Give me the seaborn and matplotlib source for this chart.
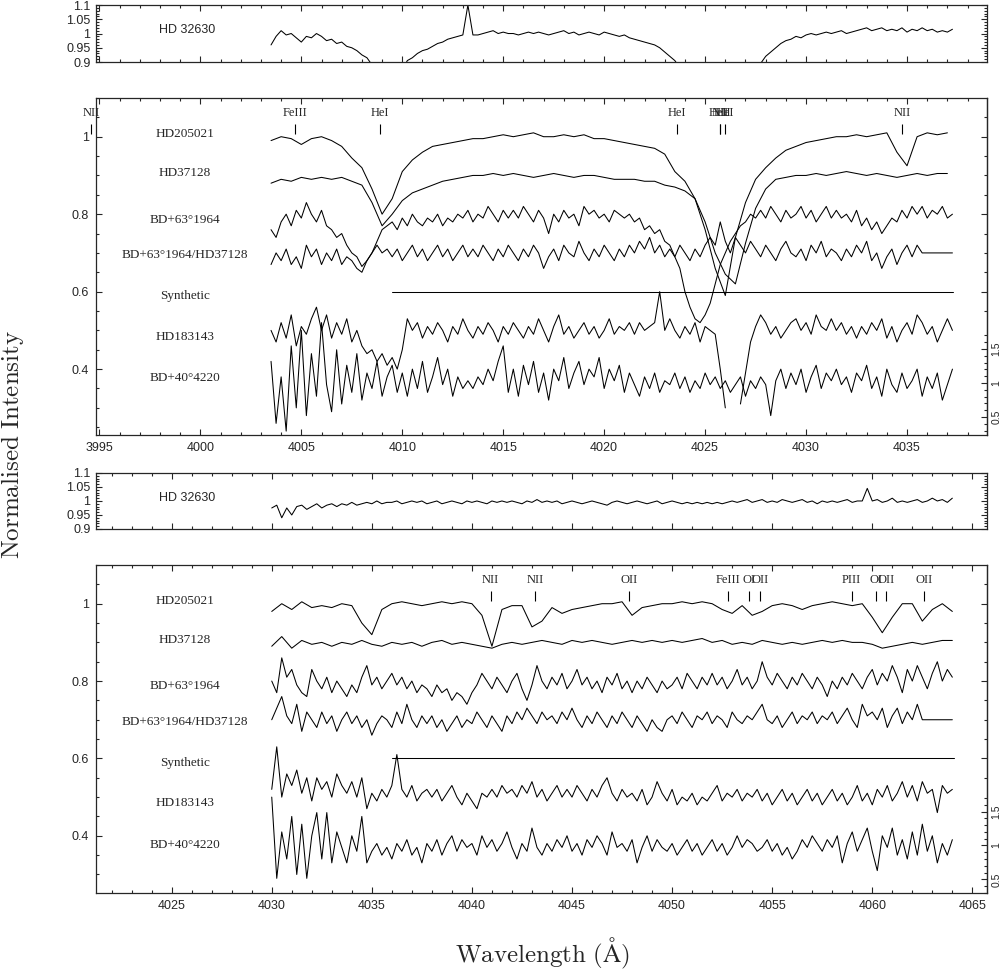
import numpy as np
import matplotlib
matplotlib.use("Agg")
import matplotlib.pyplot as plt
import seaborn as sns
from matplotlib.ticker import MultipleLocator, FixedLocator, FormatStrFormatter, NullFormatter

sns.set_style("ticks")
plt.rcParams['font.family'] = ['Liberation Sans', 'DejaVu Sans']
plt.rcParams['mathtext.fontset'] = 'cm'

#%% data, blue region (HeI 4009 / 4026)
# fine series: 0.25 A steps from 4003.5, smooth ones: 0.5 A steps from 4003.5
hd32630_b = [
    0.96, 0.99, 1.01, 0.995, 1.0, 0.985, 0.97, 0.99,
    0.985, 1.0, 0.99, 0.975, 0.98, 0.965, 0.97, 0.955,
    0.95, 0.94, 0.925, 0.915, 0.89, 0.86, 0.83, 0.80,
    0.80, 0.83, 0.87, 0.905, 0.915, 0.93, 0.94, 0.945,
    0.955, 0.965, 0.97, 0.98, 0.985, 0.99, 0.995, 1.10,
    0.995, 0.995, 1.0, 1.005, 1.01, 1.0, 1.005, 1.0,
    1.0, 0.995, 1.0, 1.005, 1.0, 1.005, 1.0, 0.995,
    1.0, 1.005, 1.01, 1.0, 1.005, 0.995, 1.0, 1.005,
    1.0, 0.995, 1.005, 1.0, 0.995, 0.99, 0.995, 0.985,
    0.98, 0.975, 0.97, 0.965, 0.96, 0.95, 0.935, 0.92,
    0.905, 0.88, 0.85, 0.82, 0.79, 0.76, 0.74, 0.72,
    0.71, 0.70, 0.71, 0.73, 0.76, 0.79, 0.82, 0.85,
    0.87, 0.895, 0.92, 0.935, 0.95, 0.965, 0.975, 0.98,
    0.99, 0.985, 0.995, 1.0, 0.995, 1.0, 1.005, 1.0,
    1.005, 1.01, 1.0, 1.005, 1.01, 1.015, 1.02, 1.01,
    1.015, 1.02, 1.01, 1.015, 1.01, 1.02, 1.005, 1.015,
    1.01, 1.02, 1.01, 1.015, 1.005, 1.01, 1.005, 1.015,
]
hd205021_b = [
    0.99, 1.00, 0.995, 0.98,
    0.995, 1.00, 0.99, 0.975,
    0.945, 0.92, 0.865, 0.80,
    0.84, 0.91, 0.94, 0.96,
    0.975, 0.98, 0.985, 0.99,
    0.995, 0.995, 1.00, 1.005,
    1.00, 1.005, 1.01, 1.00,
    1.00, 1.005, 1.00, 1.005,
    0.995, 0.995, 0.99, 0.985,
    0.98, 0.975, 0.97, 0.955,
    0.91, 0.885, 0.84, 0.76,
    0.66, 0.59, 0.74, 0.83,
    0.89, 0.92, 0.945, 0.965,
    0.975, 0.985, 0.99, 0.995,
    1.00, 1.00, 1.005, 1.00,
    1.005, 1.01, 0.96, 0.925,
    1.00, 1.01, 1.005, 1.01,
]
hd37128_b = [
    0.88, 0.89, 0.885, 0.895,
    0.89, 0.895, 0.89, 0.895,
    0.885, 0.875, 0.83, 0.77,
    0.80, 0.835, 0.855, 0.865,
    0.875, 0.885, 0.89, 0.895,
    0.90, 0.90, 0.905, 0.90,
    0.905, 0.90, 0.895, 0.90,
    0.905, 0.90, 0.895, 0.90,
    0.90, 0.895, 0.89, 0.89,
    0.89, 0.885, 0.885, 0.875,
    0.87, 0.86, 0.84, 0.78,
    0.70, 0.645, 0.62, 0.725,
    0.815, 0.865, 0.89, 0.895,
    0.90, 0.90, 0.905, 0.90,
    0.905, 0.91, 0.905, 0.90,
    0.905, 0.90, 0.895, 0.90,
    0.905, 0.90, 0.905, 0.905,
]
bd63_b = [
    0.76, 0.74, 0.78, 0.80, 0.77, 0.81, 0.79, 0.83,
    0.80, 0.78, 0.81, 0.77, 0.76, 0.74, 0.75, 0.72,
    0.70, 0.69, 0.665, 0.68, 0.70, 0.73, 0.76, 0.77,
    0.78, 0.76, 0.79, 0.77, 0.80, 0.78, 0.77, 0.79,
    0.78, 0.80, 0.77, 0.79, 0.78, 0.80, 0.79, 0.81,
    0.78, 0.80, 0.79, 0.82, 0.80, 0.78, 0.81, 0.79,
    0.81, 0.79, 0.82, 0.80, 0.78, 0.81, 0.79, 0.75,
    0.80, 0.78, 0.81, 0.79, 0.80, 0.77, 0.82, 0.80,
    0.81, 0.79, 0.80, 0.78, 0.81, 0.80, 0.79, 0.80,
    0.78, 0.79, 0.76, 0.77, 0.75, 0.76, 0.73, 0.72,
    0.69, 0.66, 0.60, 0.56, 0.53, 0.52, 0.54, 0.57,
    0.62, 0.67, 0.70, 0.73, 0.75, 0.77, 0.78, 0.80,
    0.79, 0.81, 0.79, 0.82, 0.80, 0.78, 0.81, 0.79,
    0.80, 0.82, 0.79, 0.81, 0.78, 0.80, 0.82, 0.79,
    0.81, 0.79, 0.80, 0.78, 0.81, 0.77, 0.79, 0.76,
    0.78, 0.75, 0.77, 0.79, 0.78, 0.81, 0.79, 0.82,
    0.80, 0.82, 0.79, 0.81, 0.80, 0.82, 0.79, 0.80,
]
ratio_b = [
    0.67, 0.70, 0.68, 0.71, 0.67, 0.69, 0.66, 0.72,
    0.69, 0.71, 0.67, 0.70, 0.68, 0.71, 0.67, 0.69,
    0.68, 0.66, 0.65, 0.68, 0.70, 0.72, 0.70, 0.71,
    0.69, 0.71, 0.68, 0.70, 0.72, 0.69, 0.71, 0.68,
    0.70, 0.72, 0.69, 0.71, 0.68, 0.70, 0.72, 0.69,
    0.71, 0.69, 0.72, 0.70, 0.68, 0.71, 0.69, 0.72,
    0.70, 0.68, 0.71, 0.69, 0.72, 0.70, 0.66, 0.69,
    0.71, 0.68, 0.72, 0.70, 0.69, 0.73, 0.70, 0.68,
    0.71, 0.69, 0.72, 0.70, 0.68, 0.71, 0.69, 0.72,
    0.70, 0.73, 0.71, 0.74, 0.70, 0.72, 0.69, 0.71,
    0.69, 0.72, 0.70, 0.68, 0.71, 0.69, 0.72, 0.74,
    0.72, 0.78, 0.73, 0.70, 0.74, 0.72, 0.70, 0.73,
    0.71, 0.69, 0.72, 0.70, 0.68, 0.71, 0.73, 0.70,
    0.69, 0.71, 0.68, 0.72, 0.70, 0.73, 0.69, 0.71,
    0.70, 0.68, 0.71, 0.69, 0.72, 0.70, 0.73, 0.68,
    0.70, 0.66, 0.69, 0.71, 0.67, 0.70, 0.72, 0.69,
    0.72, 0.70, 0.70, 0.70, 0.70, 0.70, 0.70, 0.70,
]
hd183143_b = [
    0.50, 0.47, 0.52, 0.48, 0.54, 0.46, 0.51, 0.49,
    0.53, 0.56, 0.50, 0.54, 0.48, 0.52, 0.49, 0.53,
    0.47, 0.50, 0.46, 0.44, 0.45, 0.42, 0.44, 0.41,
    0.43, 0.40, 0.45, 0.53, 0.50, 0.52, 0.48, 0.51,
    0.49, 0.52, 0.50, 0.47, 0.51, 0.49, 0.53, 0.50,
    0.48, 0.51, 0.49, 0.52, 0.50, 0.47, 0.51, 0.49,
    0.52, 0.50, 0.48, 0.51, 0.49, 0.53, 0.50, 0.47,
    0.51, 0.54, 0.49, 0.51, 0.48, 0.50, 0.52, 0.49,
    0.51, 0.48, 0.50, 0.53, 0.49, 0.51, 0.50, 0.52,
    0.49, 0.52, 0.50, 0.51, 0.52, 0.60, 0.50, 0.53,
    0.50, 0.48, 0.51, 0.49, 0.52, 0.47, 0.51, 0.50,
    0.49, 0.40, 0.30, np.nan, np.nan, 0.31, 0.39, 0.47,
    0.51, 0.54, 0.52, 0.49, 0.51, 0.48, 0.50, 0.52,
    0.53, 0.50, 0.52, 0.49, 0.54, 0.51, 0.50, 0.53,
    0.50, 0.52, 0.49, 0.51, 0.48, 0.51, 0.49, 0.52,
    0.50, 0.53, 0.48, 0.51, 0.47, 0.50, 0.52, 0.49,
    0.54, 0.52, 0.49, 0.51, 0.47, 0.50, 0.53, 0.50,
]
bd40_b = [
    0.42, 0.26, 0.38, 0.24, 0.46, 0.30, 0.50, 0.28,
    0.44, 0.33, 0.52, 0.36, 0.29, 0.45, 0.31, 0.41,
    0.34, 0.44, 0.32, 0.39, 0.35, 0.42, 0.33, 0.38,
    0.41, 0.34, 0.39, 0.33, 0.40, 0.35, 0.42, 0.34,
    0.38, 0.43, 0.36, 0.40, 0.33, 0.38, 0.35, 0.37,
    0.35, 0.38, 0.36, 0.40, 0.37, 0.42, 0.46, 0.34,
    0.40, 0.33, 0.41, 0.36, 0.42, 0.34, 0.39, 0.32,
    0.40, 0.37, 0.43, 0.35, 0.39, 0.42, 0.36, 0.40,
    0.38, 0.43, 0.35, 0.40, 0.37, 0.41, 0.34, 0.39,
    0.36, 0.33, 0.38, 0.35, 0.39, 0.34, 0.37, 0.36,
    0.39, 0.35, 0.38, 0.34, 0.37, 0.35, 0.39, 0.36,
    0.38, 0.35, 0.37, 0.34, 0.36, 0.38, 0.33, 0.37,
    0.35, 0.38, 0.36, 0.28, 0.37, 0.40, 0.35, 0.39,
    0.36, 0.40, 0.34, 0.38, 0.41, 0.35, 0.39, 0.37,
    0.40, 0.36, 0.38, 0.34, 0.39, 0.37, 0.41, 0.35,
    0.38, 0.33, 0.40, 0.36, 0.34, 0.39, 0.35, 0.37,
    0.40, 0.33, 0.38, 0.35, 0.39, 0.32, 0.36, 0.40,
]
synth_wl_b = [4009.5, 4037.3]
synth_b = [0.6, 0.6]

#%% data, red region (NII / OII), 0.25 A and 0.5 A steps from 4030.0
hd32630_r = [
    0.975, 0.985, 0.94, 0.975, 0.95, 0.98, 0.985, 0.97,
    0.98, 0.99, 0.975, 0.985, 0.99, 0.98, 0.99, 0.985,
    0.995, 0.985, 0.99, 0.995, 0.99, 1.0, 0.99, 0.995,
    0.995, 1.0, 0.99, 0.995, 1.0, 0.995, 1.0, 0.99,
    0.995, 1.0, 0.99, 0.995, 1.0, 0.995, 0.99, 1.0,
    0.995, 1.0, 0.995, 0.99, 1.0, 0.995, 1.0, 0.995,
    1.0, 0.995, 0.99, 1.0, 0.995, 1.005, 0.995, 1.0,
    0.995, 1.0, 0.99, 0.995, 1.0, 0.995, 0.99, 0.995,
    1.0, 0.995, 0.99, 0.985, 0.995, 1.0, 0.995, 0.99,
    0.995, 1.0, 0.995, 0.99, 0.995, 1.0, 0.99, 0.995,
    1.0, 0.995, 0.99, 0.995, 0.99, 0.995, 0.99, 0.995,
    0.99, 0.995, 0.99, 0.995, 1.0, 0.995, 1.0, 1.005,
    0.995, 1.0, 1.005, 0.995, 1.0, 0.995, 1.005, 1.0,
    0.995, 1.0, 1.005, 0.995, 1.0, 0.99, 1.0, 0.995,
    1.0, 0.995, 1.0, 1.005, 0.995, 1.0, 1.0, 1.045,
    1.0, 1.005, 0.995, 1.0, 1.01, 0.995, 1.0, 0.995,
    1.0, 1.005, 0.995, 1.0, 1.01, 1.0, 1.005, 0.995,
    1.01,
]
hd205021_r = [
    0.98, 1.00, 0.985, 1.005,
    0.99, 0.995, 0.99, 1.00,
    0.995, 0.95, 0.92, 0.985,
    1.00, 1.005, 1.00, 0.995,
    1.00, 1.005, 1.00, 1.005,
    1.00, 0.97, 0.89, 0.985,
    0.995, 0.995, 0.94, 0.955,
    0.99, 0.975, 0.985, 0.99,
    0.995, 1.00, 1.00, 1.005,
    0.97, 0.99, 0.995, 1.00,
    1.00, 1.005, 1.00, 1.005,
    1.00, 0.985, 0.975, 0.995,
    0.97, 0.98, 0.995, 1.00,
    0.995, 0.985, 0.995, 1.00,
    1.005, 1.00, 0.995, 1.00,
    0.965, 0.925, 0.965, 1.00,
    1.00, 0.955, 0.985, 1.00,
    0.98,
]
hd37128_r = [
    0.89, 0.915, 0.885, 0.905,
    0.895, 0.90, 0.89, 0.90,
    0.895, 0.905, 0.895, 0.89,
    0.90, 0.895, 0.90, 0.89,
    0.90, 0.905, 0.895, 0.90,
    0.895, 0.89, 0.885, 0.895,
    0.90, 0.895, 0.90, 0.905,
    0.90, 0.895, 0.905, 0.90,
    0.905, 0.90, 0.895, 0.90,
    0.905, 0.90, 0.905, 0.90,
    0.905, 0.90, 0.905, 0.91,
    0.90, 0.905, 0.895, 0.90,
    0.895, 0.905, 0.90, 0.895,
    0.90, 0.895, 0.90, 0.905,
    0.90, 0.905, 0.90, 0.90,
    0.895, 0.885, 0.89, 0.895,
    0.90, 0.895, 0.90, 0.905,
    0.905,
]
bd63_r = [
    0.80, 0.77, 0.86, 0.81, 0.83, 0.79, 0.77, 0.76,
    0.83, 0.80, 0.78, 0.81, 0.77, 0.80, 0.78, 0.76,
    0.79, 0.77, 0.81, 0.84, 0.79, 0.81, 0.78, 0.80,
    0.82, 0.79, 0.81, 0.78, 0.80, 0.77, 0.79, 0.78,
    0.76, 0.79, 0.77, 0.78, 0.75, 0.77, 0.76, 0.74,
    0.77, 0.79, 0.82, 0.80, 0.78, 0.81, 0.79, 0.77,
    0.80, 0.82, 0.78, 0.75, 0.79, 0.84, 0.80, 0.78,
    0.81, 0.79, 0.82, 0.78, 0.80, 0.83, 0.79, 0.81,
    0.78, 0.80, 0.77, 0.81, 0.79, 0.82, 0.78, 0.80,
    0.77, 0.80, 0.78, 0.81, 0.79, 0.77, 0.80, 0.78,
    0.79, 0.81, 0.78, 0.82, 0.80, 0.78, 0.81, 0.79,
    0.82, 0.79, 0.81, 0.78, 0.80, 0.83, 0.79, 0.81,
    0.78, 0.80, 0.85, 0.81, 0.79, 0.82, 0.80, 0.78,
    0.81, 0.79, 0.82, 0.80, 0.78, 0.81, 0.79, 0.76,
    0.80, 0.78, 0.81, 0.79, 0.82, 0.80, 0.78, 0.81,
    0.83, 0.79, 0.82, 0.80, 0.84, 0.81, 0.77, 0.83,
    0.80, 0.84, 0.81, 0.78, 0.82, 0.85, 0.80, 0.83,
    0.81,
]
ratio_r = [
    0.70, 0.73, 0.76, 0.71, 0.69, 0.74, 0.67, 0.72,
    0.70, 0.68, 0.72, 0.69, 0.71, 0.67, 0.70, 0.72,
    0.69, 0.71, 0.68, 0.70, 0.66, 0.69, 0.71, 0.70,
    0.68, 0.72, 0.69, 0.74, 0.70, 0.68, 0.71, 0.69,
    0.71, 0.68, 0.70, 0.67, 0.69, 0.71, 0.68, 0.70,
    0.69, 0.72, 0.70, 0.68, 0.71, 0.69, 0.67, 0.71,
    0.69, 0.72, 0.70, 0.73, 0.71, 0.69, 0.72, 0.70,
    0.71, 0.69, 0.72, 0.70, 0.73, 0.70, 0.68, 0.71,
    0.69, 0.72, 0.70, 0.68, 0.71, 0.69, 0.72, 0.70,
    0.68, 0.71, 0.69, 0.67, 0.70, 0.68, 0.67, 0.70,
    0.71, 0.69, 0.72, 0.70, 0.68, 0.71, 0.70, 0.72,
    0.69, 0.71, 0.70, 0.68, 0.72, 0.70, 0.69, 0.71,
    0.70, 0.72, 0.74, 0.70, 0.69, 0.71, 0.68, 0.70,
    0.72, 0.69, 0.71, 0.70, 0.72, 0.69, 0.71, 0.70,
    0.72, 0.69, 0.71, 0.73, 0.70, 0.68, 0.74, 0.71,
    0.72, 0.70, 0.73, 0.68, 0.71, 0.73, 0.69, 0.72,
    0.70, 0.74, 0.70, 0.70, 0.70, 0.70, 0.70, 0.70,
    0.70,
]
hd183143_r = [
    0.52, 0.63, 0.50, 0.56, 0.53, 0.57, 0.51, 0.55,
    0.49, 0.55, 0.52, 0.54, 0.50, 0.56, 0.53, 0.51,
    0.54, 0.50, 0.55, 0.47, 0.51, 0.49, 0.52, 0.50,
    0.53, 0.61, 0.52, 0.50, 0.53, 0.49, 0.51, 0.52,
    0.50, 0.52, 0.49, 0.51, 0.53, 0.50, 0.48, 0.51,
    0.49, 0.47, 0.51, 0.50, 0.52, 0.50, 0.53, 0.51,
    0.52, 0.50, 0.53, 0.51, 0.54, 0.50, 0.52, 0.49,
    0.51, 0.53, 0.50, 0.52, 0.50, 0.53, 0.51, 0.49,
    0.52, 0.50, 0.53, 0.55, 0.51, 0.49, 0.52, 0.50,
    0.51, 0.49, 0.52, 0.48, 0.50, 0.54, 0.51, 0.49,
    0.52, 0.48, 0.50, 0.49, 0.51, 0.48, 0.50, 0.49,
    0.51, 0.53, 0.49, 0.51, 0.50, 0.52, 0.49, 0.51,
    0.50, 0.52, 0.49, 0.51, 0.48, 0.50, 0.52, 0.49,
    0.51, 0.48, 0.50, 0.52, 0.49, 0.51, 0.48, 0.50,
    0.52, 0.49, 0.51, 0.48, 0.50, 0.53, 0.49, 0.51,
    0.48, 0.52, 0.50, 0.53, 0.49, 0.51, 0.54, 0.50,
    0.53, 0.49, 0.54, 0.51, 0.52, 0.46, 0.53, 0.51,
    0.52,
]
bd40_r = [
    0.50, 0.29, 0.41, 0.34, 0.45, 0.30, 0.43, 0.29,
    0.40, 0.46, 0.34, 0.46, 0.33, 0.41, 0.37, 0.33,
    0.40, 0.36, 0.45, 0.33, 0.36, 0.38, 0.35, 0.37,
    0.34, 0.38, 0.36, 0.39, 0.35, 0.37, 0.33, 0.38,
    0.36, 0.39, 0.35, 0.38, 0.40, 0.36, 0.39, 0.37,
    0.38, 0.35, 0.40, 0.37, 0.39, 0.36, 0.38, 0.41,
    0.37, 0.34, 0.38, 0.36, 0.42, 0.37, 0.35, 0.38,
    0.36, 0.39, 0.37, 0.40, 0.36, 0.38, 0.35, 0.39,
    0.37, 0.40, 0.38, 0.35, 0.41, 0.37, 0.38, 0.36,
    0.39, 0.33, 0.37, 0.40, 0.36, 0.39, 0.37, 0.36,
    0.38, 0.35, 0.37, 0.39, 0.36, 0.38, 0.35, 0.37,
    0.39, 0.36, 0.38, 0.35, 0.37, 0.40, 0.37, 0.39,
    0.38, 0.36, 0.37, 0.39, 0.36, 0.38, 0.35, 0.37,
    0.34, 0.36, 0.39, 0.37, 0.40, 0.38, 0.36, 0.39,
    0.37, 0.40, 0.33, 0.38, 0.41, 0.36, 0.39, 0.42,
    0.36, 0.31, 0.40, 0.37, 0.42, 0.35, 0.39, 0.34,
    0.41, 0.35, 0.43, 0.36, 0.40, 0.33, 0.38, 0.35,
    0.39,
]
synth_wl_r = [4036.0, 4064.1]
synth_r = [0.6, 0.6]

# star names and line identifications
star_names = ["HD205021", "HD37128", "BD+63°1964", "BD+63°1964/HD37128",
              "Synthetic", "HD183143", "BD+40°4220"]
name_levels = [1.008, 0.906, 0.786, 0.695, 0.588, 0.484, 0.376]
lines_b = ["NII", "FeIII", "HeI", "HeI", "HeII", "NII", "HeI", "NII"]
lines_wl_b = [3994.6, 4004.7, 4008.9, 4023.6, 4025.75, 4025.73, 4026.0, 4034.75]
lines_r = ["NII", "NII", "OII", "FeIII", "OI", "OII", "PIII", "OI", "OII", "OII"]
lines_wl_r = [4040.94, 4043.15, 4047.86, 4052.78, 4053.86, 4054.39,
              4058.97, 4060.19, 4060.69, 4062.59]


def draw(ax, start, step, flux):
    flux = np.asarray(flux, dtype=float)
    wl = start + step * np.arange(len(flux))
    ok = ~np.isnan(flux)
    cuts = np.flatnonzero(np.diff(ok.astype(int))) + 1
    for seg in np.split(np.arange(len(flux)), cuts):
        if ok[seg[0]]:
            sns.lineplot(x=wl[seg], y=flux[seg], ax=ax, color='k', lw=0.75,
                         estimator=None, sort=False, legend=False)


def style_x(ax, xlim, labels):
    ax.set_xlim(*xlim)
    ax.xaxis.set_major_locator(MultipleLocator(5))
    ax.xaxis.set_minor_locator(MultipleLocator(1))
    ax.tick_params(axis='x', which='both', direction='in', top=True, bottom=True,
                   labelbottom=labels, labelsize=9, pad=5)
    ax.tick_params(which='major', length=4.5, width=0.8)
    ax.tick_params(which='minor', length=2.2, width=0.8)
    ax.set_xlabel('')
    ax.set_ylabel('')
    for s in ax.spines.values():
        s.set_linewidth(0.9)


def strip(ax, xlim, start, flux, label_x):
    draw(ax, start, 0.25, flux)
    style_x(ax, xlim, False)
    ax.set_ylim(0.9, 1.1)
    ax.yaxis.set_major_locator(MultipleLocator(0.05))
    ax.yaxis.set_minor_locator(MultipleLocator(0.01))
    ax.yaxis.set_major_formatter(FormatStrFormatter('%g'))
    ax.tick_params(axis='y', which='both', direction='in', left=True, right=True,
                   labelsize=9, pad=4)
    ax.text(label_x, 1.012, "HD 32630", ha='center', va='center', fontsize=9)


def main_panel(ax, xlim, ylim, fine_start, smooth_start, fine, smooth, synth_wl,
               synth, line_names, line_wl, label_x, bd40_one):
    for flux in smooth:
        draw(ax, smooth_start, 0.5, flux)
    for flux in fine:
        draw(ax, fine_start, 0.25, flux)
    sns.lineplot(x=synth_wl, y=synth, ax=ax, color='k', lw=0.75, legend=False)
    style_x(ax, xlim, True)
    ax.set_ylim(*ylim)
    ax.yaxis.set_major_locator(MultipleLocator(0.2))
    ax.yaxis.set_minor_locator(MultipleLocator(0.05))
    ax.yaxis.set_major_formatter(FormatStrFormatter('%g'))
    ax.tick_params(axis='y', which='both', direction='in', left=True, right=False,
                   labelsize=9, pad=5)
    # mirrored ticks on the right, upper part only
    sec = ax.secondary_yaxis('right')
    sec.yaxis.set_major_locator(FixedLocator([0.6, 0.8, 1.0]))
    sec.yaxis.set_minor_locator(FixedLocator([0.55, 0.65, 0.7, 0.75, 0.85, 0.9, 0.95, 1.05]))
    sec.yaxis.set_major_formatter(NullFormatter())
    sec.tick_params(which='major', direction='in', length=4.5, width=0.8)
    sec.tick_params(which='minor', direction='in', length=2.2, width=0.8)
    # flux scale of BD+40 4220
    scale = 0.1755
    sec2 = ax.secondary_yaxis('right', functions=(lambda y: 1 + (y - bd40_one) / scale,
                                                   lambda r: bd40_one + (r - 1) * scale))
    sec2.yaxis.set_major_locator(FixedLocator([0.5, 1.0, 1.5]))
    sec2.yaxis.set_minor_locator(FixedLocator([0.3, 0.4, 0.6, 0.7, 0.8, 0.9, 1.1, 1.2,
                                               1.3, 1.4, 1.6, 1.7]))
    sec2.yaxis.set_major_formatter(FormatStrFormatter('%g'))
    sec2.tick_params(which='major', direction='in', length=4.5, width=0.8,
                     labelsize=7.5, pad=3, labelrotation=90)
    sec2.tick_params(which='minor', direction='in', length=2.2, width=0.8)
    for t in sec2.get_yticklabels():
        t.set_va('center')
    for name, yy in zip(star_names, name_levels):
        ax.text(label_x, yy, name, ha='center', va='center', fontsize=9.5,
                family=['Liberation Serif', 'DejaVu Serif'])
    ax.vlines(line_wl, 1.008, 1.034, color='k', lw=0.8, clip_on=False)
    for name, w in zip(line_names, line_wl):
        ax.text(w, 1.06, name, ha='center', va='center', fontsize=9,
                family=['Liberation Serif', 'DejaVu Serif'], clip_on=False)


fig = plt.figure(figsize=(10.02, 9.69), dpi=100, facecolor='white')
ax_a = fig.add_axes([0.0958, 0.9360, 0.8892, 0.0588])
ax_b = fig.add_axes([0.0958, 0.5511, 0.8892, 0.3478])
ax_c = fig.add_axes([0.0958, 0.4541, 0.8892, 0.0578])
ax_d = fig.add_axes([0.0958, 0.0784, 0.8892, 0.3385])

xlim_b = (3994.83, 4038.96)
xlim_r = (4021.22, 4065.73)

strip(ax_a, xlim_b, 4003.5, hd32630_b, 3999.33)
main_panel(ax_b, xlim_b, (0.23, 1.10), 4003.5, 4003.5,
           [bd63_b, ratio_b, hd183143_b, bd40_b], [hd205021_b, hd37128_b],
           synth_wl_b, synth_b, lines_b, lines_wl_b, 3999.23, 0.364)
strip(ax_c, xlim_r, 4030.0, hd32630_r, 4025.76)
main_panel(ax_d, xlim_r, (0.252, 1.10), 4030.0, 4030.0,
           [bd63_r, ratio_r, hd183143_r, bd40_r], [hd205021_r, hd37128_r],
           synth_wl_r, synth_r, lines_r, lines_wl_r, 4025.66, 0.375)

fig.text(0.012, 0.541, r'$\mathrm{Normalised\ Intensity}$', rotation=90,
         ha='center', va='center', fontsize=18)
fig.text(0.541, 0.0165, r'$\mathrm{Wavelength\ (\AA)}$', ha='center', va='center',
         fontsize=18)

fig.savefig('out.png', dpi=100, facecolor='white')
